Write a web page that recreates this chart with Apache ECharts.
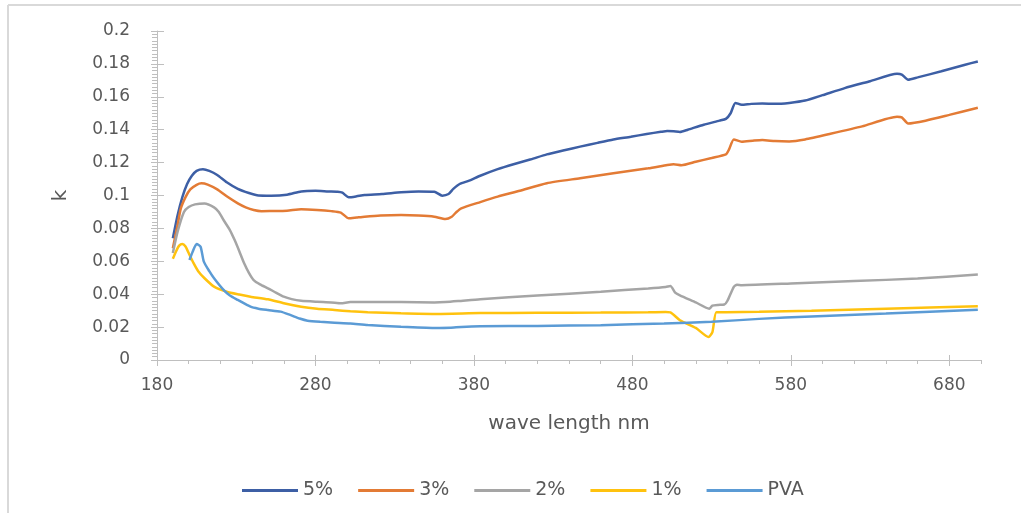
<!DOCTYPE html>
<html>
<head>
<meta charset="utf-8">
<script src="https://cdn.jsdelivr.net/npm/echarts@6/dist/echarts.min.js"></script>
<style>
  html, body { margin: 0; padding: 0; background: #ffffff; }
  #chart { width: 1021px; height: 513px; }
</style>
</head>
<body>
<div id="chart"></div>
<script>
// Extinction coefficient k versus wavelength for PVA films with different loadings
const seriesNames = ['5%', '3%', '2%', '1%', 'PVA'];
const seriesColors = ['#3D5FA5', '#E37B35', '#A5A5A5', '#FFC20E', '#5B9BD5'];
const xTickLabels = [180, 280, 380, 480, 580, 680];

const wl5 = [190,193,196,199,202,205,209,213,218,224,231,238,244,252,262,271,280,288,294,297,301,306,311,322,334,345,355,360,364,367,371,377,384,395,405,416,426,437,447,458,468,479,489,498,502,506,510,515,525,535,539,542,545,549,555,562,570,579,589,600,614,630,647,650,654,660,675,690,698];
const k5  = [0.074,0.088,0.099,0.107,0.112,0.115,0.116,0.115,0.1125,0.108,0.104,0.1015,0.100,0.0999,0.1005,0.1025,0.1029,0.1025,0.1023,0.1017,0.0989,0.0995,0.1003,0.1009,0.1020,0.1025,0.1023,0.0999,0.1009,0.104,0.107,0.109,0.112,0.116,0.119,0.122,0.125,0.1275,0.1297,0.132,0.134,0.1357,0.1374,0.1387,0.1392,0.139,0.1386,0.1400,0.143,0.1455,0.1466,0.150,0.1563,0.1551,0.1557,0.1559,0.1557,0.1563,0.1577,0.1610,0.1653,0.1695,0.1740,0.1735,0.1704,0.1718,0.1755,0.1795,0.1815];

const wl3 = [190,193,195,198,201,205,208,212,218,224,231,236,241,246,252,262,271,281,290,296,301,306,311,321,334,345,355,362,366,369,372,384,395,409,426,447,468,490,502,506,511,520,530,539,541,544,549,556,562,570,579,589,605,625,647,650,654,665,680,698];
const k3  = [0.068,0.082,0.092,0.099,0.1037,0.1065,0.1074,0.1066,0.1037,0.0995,0.0952,0.0928,0.0912,0.0905,0.0906,0.0908,0.0916,0.0912,0.0905,0.0896,0.0861,0.0866,0.0871,0.0878,0.0881,0.0878,0.0871,0.0857,0.0871,0.090,0.0922,0.096,0.0993,0.1029,0.1075,0.1105,0.1135,0.1165,0.1185,0.119,0.1184,0.1205,0.1228,0.125,0.128,0.1341,0.1327,0.1333,0.1337,0.1331,0.1329,0.1341,0.1375,0.142,0.1478,0.1475,0.1438,0.1455,0.1490,0.1533];

const wl2 = [190,193,197,200,204,210,216,219,222,226,229,232,235,238,241,245,250,255,260,265,271,281,290,296,302,315,334,355,362,370,384,420,460,490,501,504,507,510,520,528.5,530.5,534,538,540,544,546,549,580,620,660,698];
const k2  = [0.065,0.078,0.090,0.093,0.0946,0.0952,0.0928,0.090,0.0851,0.079,0.0729,0.066,0.0588,0.053,0.0486,0.046,0.0436,0.041,0.0385,0.037,0.036,0.0354,0.035,0.0345,0.0352,0.0352,0.0353,0.0350,0.0352,0.0358,0.0370,0.0392,0.0415,0.0435,0.0444,0.0450,0.041,0.0393,0.035,0.0312,0.0330,0.0335,0.0337,0.036,0.0445,0.0458,0.0455,0.0465,0.0480,0.0495,0.0520];

const wl1 = [190,192,194,196,198,200,203,206,210,216,224,232,239,250,260,271,281,292,302,313,334,355,384,420,460,490,501,504,510,520,528,530.5,533,539,560,593,640,698];
const k1  = [0.0615,0.066,0.0695,0.0705,0.069,0.065,0.0590,0.054,0.0497,0.0446,0.0415,0.0398,0.0385,0.0369,0.0345,0.0324,0.0312,0.0304,0.0296,0.029,0.0284,0.0280,0.0285,0.0287,0.0288,0.0290,0.0292,0.0290,0.0242,0.0195,0.0140,0.0170,0.0290,0.0290,0.0293,0.0300,0.0312,0.0326];

const wlPva = [200.5,202.5,205,207.5,209.5,213,216,222,226,231,239,244,250,258,264,270,275,283,292,302,313,334,355,365,372,384,420,460,500,530,560,593,640,698];
const kPva  = [0.0608,0.0658,0.0705,0.0689,0.0600,0.0540,0.0497,0.0426,0.0392,0.0365,0.0324,0.0312,0.0304,0.0294,0.0274,0.0252,0.0239,0.0232,0.0227,0.0222,0.0213,0.0202,0.0195,0.0196,0.0201,0.0205,0.0207,0.0212,0.0222,0.0232,0.0250,0.0265,0.0282,0.0305];

const wlSets = [wl5, wl3, wl2, wl1, wlPva];
const kSets = [k5, k3, k2, k1, kPva];

const axisGray = '#BFBFBF';
const textGray = '#595959';
const fontName = 'DejaVu Sans';

const chart = echarts.init(document.getElementById('chart'), null, { renderer: 'canvas' });

chart.setOption({
  animation: false,
  backgroundColor: '#ffffff',
  grid: { left: 157, right: 40, top: 31, bottom: 153, containLabel: false },
  graphic: [
    { type: 'line', shape: { x1: 8, y1: 5, x2: 1021, y2: 5 }, style: { stroke: '#D9D9D9', lineWidth: 2 } },
    { type: 'line', shape: { x1: 8, y1: 5, x2: 8, y2: 513 }, style: { stroke: '#D9D9D9', lineWidth: 2 } }
  ],
  legend: {
    data: seriesNames.map((n) => ({ name: n, icon: 'rect' })),
    left: 237,
    top: 476,
    itemWidth: 56,
    itemHeight: 3,
    itemGap: 25,
    textStyle: { fontFamily: fontName, fontSize: 19, color: textGray }
  },
  xAxis: [
    {
      type: 'value', min: 180, max: 700,
      name: 'wave length nm', nameLocation: 'middle', nameGap: 54,
      nameTextStyle: { fontFamily: fontName, fontSize: 20, color: textGray },
      axisLine: { show: true, lineStyle: { color: axisGray, width: 1 } },
      axisTick: { show: true, customValues: xTickLabels, length: 6, lineStyle: { color: axisGray } },
      axisLabel: { customValues: xTickLabels, margin: 17, fontFamily: fontName, fontSize: 17, color: textGray },
      splitLine: { show: false }
    },
    {
      type: 'value', min: 180, max: 700, interval: 20, position: 'bottom',
      axisLine: { show: false },
      axisTick: { show: true, length: 4, lineStyle: { color: axisGray } },
      axisLabel: { show: false },
      splitLine: { show: false }
    },
    {
      type: 'value', min: 180, max: 700, position: 'bottom',
      axisLine: { show: false },
      axisTick: { show: true, inside: true, customValues: xTickLabels, length: 5, lineStyle: { color: axisGray } },
      axisLabel: { show: false },
      splitLine: { show: false }
    }
  ],
  yAxis: [
    {
      type: 'value', min: 0, max: 0.2, interval: 0.02,
      name: 'k', nameLocation: 'middle', nameGap: 86, nameRotate: 90,
      nameTextStyle: { fontFamily: fontName, fontSize: 20, color: textGray },
      axisLine: { show: true, lineStyle: { color: axisGray, width: 1 } },
      axisTick: { show: true, length: 6, lineStyle: { color: axisGray } },
      minorTick: { show: true, splitNumber: 10, length: 5, lineStyle: { color: axisGray } },
      axisLabel: { margin: 27, fontFamily: fontName, fontSize: 17, color: textGray },
      splitLine: { show: false }
    },
    {
      type: 'value', min: 0, max: 0.2, interval: 0.02, position: 'left',
      axisLine: { show: false },
      axisTick: { show: true, inside: true, length: 7, lineStyle: { color: axisGray } },
      axisLabel: { show: false },
      splitLine: { show: false }
    }
  ],
  series: seriesNames.map((name, i) => ({
    name: name,
    type: 'line',
    xAxisIndex: 0,
    yAxisIndex: 0,
    symbol: 'none',
    smooth: 0.2,
    data: wlSets[i].map((w, j) => [w, kSets[i][j]]),
    lineStyle: { color: seriesColors[i], width: 2.5 },
    itemStyle: { color: seriesColors[i] }
  }))
});
</script>
</body>
</html>
